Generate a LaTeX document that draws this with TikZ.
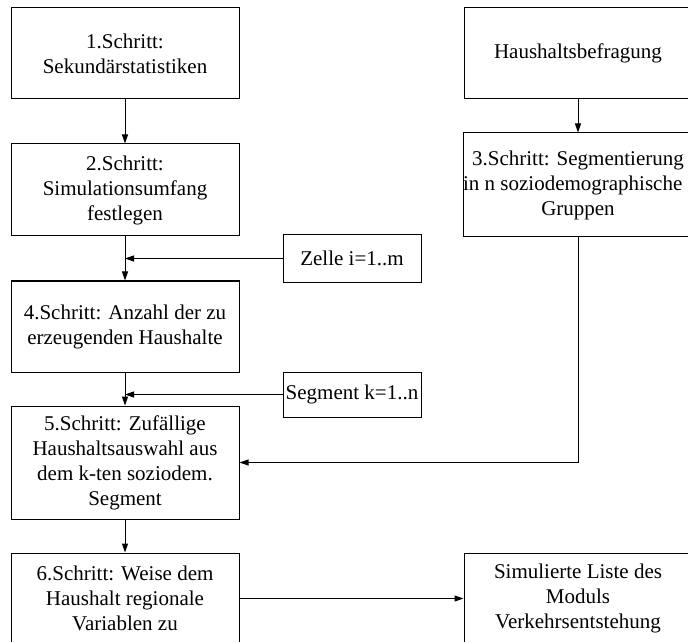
\documentclass[tikz,border=0pt]{standalone}
\usepackage{fontspec}
\setmainfont{Liberation Serif}
\usetikzlibrary{arrows.meta}
\begin{document}
\begin{tikzpicture}[x=1pt,y=1pt,
  line width=1pt,
  box/.style={draw=black, minimum width=228pt, inner sep=0pt, align=center,
              font=\fontsize{21}{25}\selectfont},
  tag/.style={draw=black, minimum width=138pt, inner sep=0pt, align=center,
              font=\fontsize{21}{25}\selectfont},
  flow/.style={-{Triangle[length=9pt,width=6pt]}}]
\useasboundingbox (0,0) rectangle (688,641);
\clip (0,0) rectangle (688,641);
% left column: steps 1, 2, 4, 5, 6
\node[box, minimum height=91pt]  (b1) at (125,587.5) {1.Schritt:\\Sekundärstatistiken};
\node[box, minimum height=92pt]  (b2) at (125,451)   {2.Schritt:\\Simulationsumfang\\festlegen};
\node[box, minimum height=91pt]  (b4) at (125,314.5) {4.Schritt: Anzahl der zu\\erzeugenden Haushalte};
\node[box, minimum height=113pt] (b5) at (125,178.5) {5.Schritt: Zufällige\\Haushaltsauswahl aus\\dem k-ten soziodem.\\Segment};
\node[box, minimum height=91pt]  (b6) at (125,42.5)  {6.Schritt: Weise dem\\Haushalt regionale\\Variablen zu};
% loop counters
\node[tag, minimum height=47pt] (zelle) at (352,382.5) {Zelle i=1..m};
\node[tag, minimum height=45pt] (seg)   at (352,246.5) {Segment k=1..n};
% right column
\node[box, minimum height=91pt]  (hh)  at (578,587.5) {Haushaltsbefragung};
\node[box, minimum height=104pt] (s3)  at (578,456)   {3.Schritt: Segmentierung\\in n soziodemographische\hphantom{n}\\Gruppen};
\node[box, minimum height=91pt]  (sim) at (578,42.5)  {Simulierte Liste des\\Moduls\\Verkehrsentstehung};
% connectors
\draw[flow] (b1) -- (b2);
\draw[flow] (b2) -- (b4);
\draw[flow] (b4) -- (b5);
\draw[flow] (b5) -- (b6);
\draw[flow] (zelle.west) -- (zelle.west -| b2.south);
\draw[flow] (seg.west) -- (seg.west -| b4.south);
\draw[flow] (hh) -- (s3);
\draw[flow] (s3.south) |- (b5.east);
\draw[flow] (b6) -- (sim);
\end{tikzpicture}
\end{document}
